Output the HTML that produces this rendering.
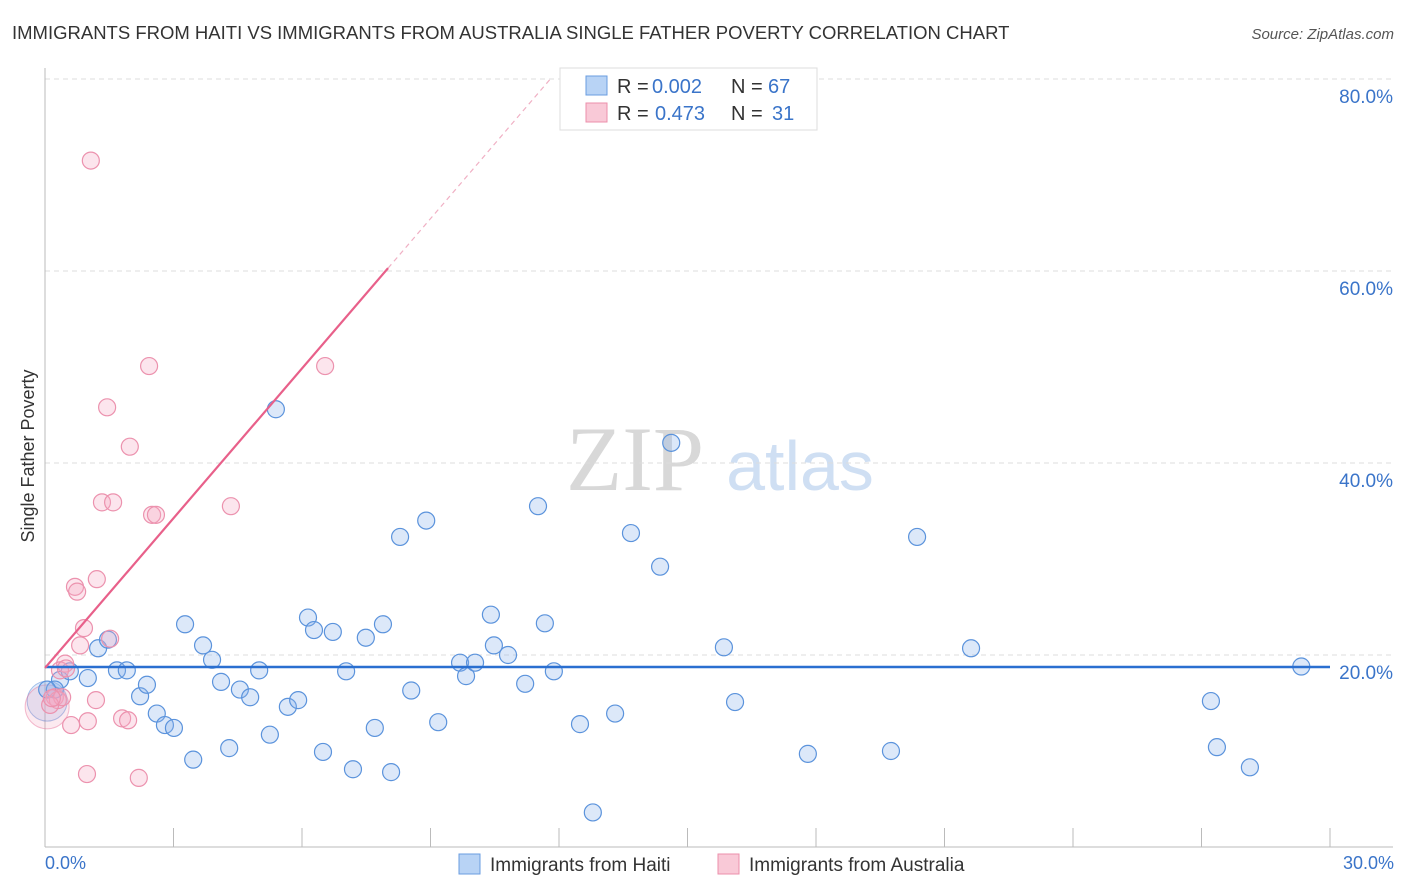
<!DOCTYPE html>
<html><head><meta charset="utf-8"><style>
body{margin:0;background:#fff;font-family:"Liberation Sans",sans-serif}
svg{display:block}
</style></head><body>
<svg id="c" width="1406" height="892" xmlns="http://www.w3.org/2000/svg">
<text x="12" y="39" font-size="18.5" fill="#333">IMMIGRANTS FROM HAITI VS IMMIGRANTS FROM AUSTRALIA SINGLE FATHER POVERTY CORRELATION CHART</text>
<text x="1394" y="39" font-size="15" fill="#555" font-style="italic" text-anchor="end">Source: ZipAtlas.com</text>
<text x="635" y="490" font-size="92" fill="#d8d8d8" font-family="Liberation Serif,serif" text-anchor="middle">ZIP</text>
<text x="800" y="490" font-size="70" fill="#cfdff3" text-anchor="middle">atlas</text>
<g id="grid"></g><g id="marks"></g>
<text transform="translate(34,456) rotate(-90)" font-size="18" fill="#333" text-anchor="middle">Single Father Poverty</text>
<text x="45" y="869" font-size="18" fill="#3a74c9">0.0%</text>
<text x="1394" y="869" font-size="18" fill="#3a74c9" text-anchor="end">30.0%</text>
<g>
<rect x="560" y="68" width="257" height="62" fill="#fff" stroke="#ddd"/>
<rect x="586" y="76" width="21" height="19" fill="#b8d3f5" stroke="#6a9de0"/>
<rect x="586" y="103" width="21" height="19" fill="#f9c9d7" stroke="#ec8fab"/>
<text y="93" font-size="20" fill="#333"><tspan x="617">R =</tspan><tspan x="652" fill="#3a74c9">0.002</tspan><tspan x="731">N =</tspan><tspan x="768" fill="#3a74c9">67</tspan></text>
<text y="120" font-size="20" fill="#333"><tspan x="617">R =</tspan><tspan x="655" fill="#3a74c9">0.473</tspan><tspan x="731">N =</tspan><tspan x="772" fill="#3a74c9">31</tspan></text>
</g>
<g>
<rect x="459" y="854" width="21" height="20" fill="#b8d3f5" stroke="#6a9de0"/>
<text x="490" y="871" font-size="19" fill="#333">Immigrants from Haiti</text>
<rect x="718" y="854" width="21" height="20" fill="#f9c9d7" stroke="#ec8fab"/>
<text x="749" y="871" font-size="19" fill="#333">Immigrants from Australia</text>
</g>
</svg>
<script>
const yTicks=[20,40,60,80];
const xTickVals=[0,3,6,9,12,15,18,21,24,27,30];
const haitiX=[0.35,0.23,1.00,1.24,1.47,1.68,1.91,2.22,2.38,2.61,2.80,3.01,3.27,3.46,3.69,3.90,4.11,4.30,4.55,4.79,5.00,5.25,5.39,5.67,5.91,6.14,6.28,6.49,6.72,7.03,7.19,7.49,7.70,7.89,8.08,8.29,8.55,8.90,9.18,9.69,9.83,10.04,10.41,10.48,10.81,11.21,11.51,11.67,11.88,12.49,12.79,13.31,13.68,14.36,14.62,15.85,16.11,17.81,19.75,20.36,21.62,27.22,27.36,28.13,29.33,0.58,0.05];
const haitiY=[17.4,16.4,17.6,20.7,21.6,18.4,18.4,15.7,16.9,13.9,12.7,12.4,23.2,9.1,21.0,19.5,17.2,10.3,16.4,15.6,18.4,11.7,45.6,14.6,15.3,23.9,22.6,9.9,22.4,18.3,8.1,21.8,12.4,23.2,7.8,32.3,16.3,34.0,13.0,19.2,17.8,19.2,24.2,21.0,20.0,17.0,35.5,23.3,18.3,12.8,3.6,13.9,32.7,29.2,42.1,20.8,15.1,9.7,10.0,32.3,20.7,15.2,10.4,8.3,18.8,18.3,16.4];
const ausX=[1.07,2.43,6.54,1.45,1.98,1.33,1.59,2.50,2.59,4.34,0.70,0.75,1.21,0.91,0.82,1.52,0.47,0.35,0.23,0.30,0.40,1.19,1.00,0.61,1.80,1.94,0.98,2.19,0.12,0.49,0.16];
const ausY=[71.5,50.1,50.1,45.8,41.7,35.9,35.9,34.6,34.6,35.5,27.1,26.6,27.9,22.8,21.0,21.7,19.1,18.4,15.6,15.3,15.6,15.3,13.1,12.7,13.4,13.2,7.6,7.2,14.8,18.6,15.5];
const haitiTrend=[18.75,18.75];
const ausTrend=[18.65,5.2];
const X=v=>45+v*(1285/30), Y=v=>847-v*9.6;
const NS="http://www.w3.org/2000/svg";
function mk(p,t,a){const e=document.createElementNS(NS,t);for(const k in a)e.setAttribute(k,a[k]);p.appendChild(e);return e;}
const g=document.getElementById('grid'), m=document.getElementById('marks');
yTicks.forEach(v=>{
 const l=mk(g,'line',{x1:45,x2:1393,y1:Y(v),y2:Y(v),stroke:'#ddd','stroke-dasharray':'5,4'});
 
 
 const t=mk(g,'text',{x:1393,y:Y(v)+24,'font-size':19,fill:'#3a74c9','text-anchor':'end'});t.textContent=v.toFixed(1)+'%';
 
 
});
const ax=mk(g,'line',{x1:45,x2:45,y1:68,y2:847,stroke:'#bbb'});


const bx=mk(g,'line',{x1:45,x2:1393,y1:847,y2:847,stroke:'#bbb'});


xTickVals.forEach(v=>{const l=mk(g,'line',{x1:X(v),x2:X(v),y1:828,y2:847,stroke:'#bbb'});
 
 });
let b1=mk(m,'circle',{cx:X(0.05),cy:Y(15.2),r:20,fill:'rgba(120,165,230,0.2)',stroke:'rgba(60,120,210,0.45)'});


let b2=mk(m,'circle',{cx:X(0.05),cy:Y(14.6),r:22,fill:'rgba(240,150,180,0.2)',stroke:'rgba(230,110,150,0.45)'});


haitiX.forEach((x,i)=>{const c=mk(m,'circle',{cx:X(x),cy:Y(haitiY[i]),r:8.5,fill:'rgba(140,180,235,0.3)',stroke:'#5b93dc','stroke-width':1.2});
 
 });
ausX.forEach((x,i)=>{const c=mk(m,'circle',{cx:X(x),cy:Y(ausY[i]),r:8.5,fill:'rgba(245,170,195,0.3)',stroke:'#ec92ae','stroke-width':1.2});
 
 });
const ht=mk(m,'line',{x1:X(0),x2:X(30),y1:Y(haitiTrend[0]),y2:Y(haitiTrend[1]),stroke:'#2a6fd0','stroke-width':2.5});


const xe=8.01, xd=(80-ausTrend[0])/ausTrend[1];
const at=mk(m,'line',{x1:X(0),x2:X(xe),y1:Y(ausTrend[0]),y2:Y(ausTrend[0]+ausTrend[1]*xe),stroke:'#e8608a','stroke-width':2.2});


const ad=mk(m,'line',{x1:X(xe),x2:X(xd),y1:Y(ausTrend[0]+ausTrend[1]*xe),y2:Y(80),stroke:'#f0b0c4','stroke-width':1.2,'stroke-dasharray':'5,4'});


</script>
</body></html>
